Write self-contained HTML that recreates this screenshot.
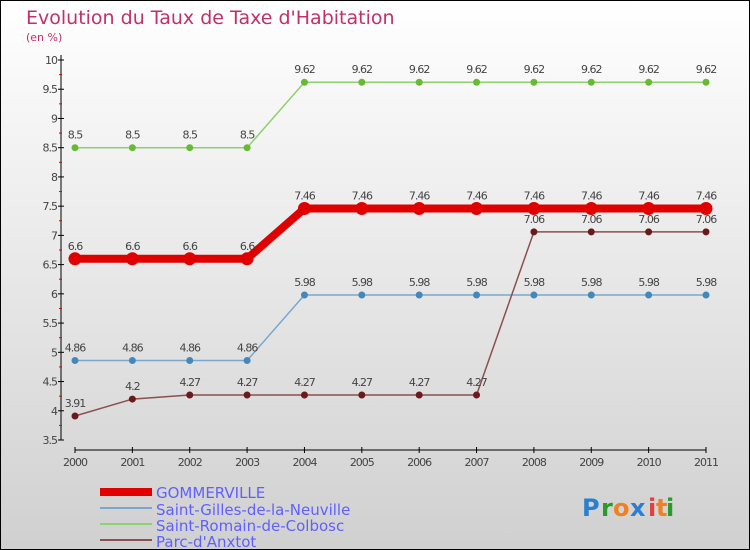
<!DOCTYPE html>
<html><head><meta charset="utf-8"><style>
body{margin:0}
#c{width:750px;height:550px;position:relative;overflow:hidden;box-sizing:border-box;border:1px solid #000;background:linear-gradient(#ffffff,#d0d0d0);font-family:"DejaVu Sans","Liberation Sans",sans-serif}
</style></head><body>
<div id="c">
<svg id="s" width="750" height="550" style="position:absolute;left:-1px;top:-1px">
<text x="26" y="24" font-size="19" fill="#c0306a">Evolution du Taux de Taxe d'Habitation</text>
<text x="26" y="41" font-size="11" fill="#c0306a">(en %)</text>
<g id="g"></g>
<g>
<rect x="100" y="488" width="52" height="8" fill="#e00000"/>
<text x="156" y="498" font-size="15" fill="#6060ff">GOMMERVILLE</text>
<rect x="100" y="507" width="52" height="2" fill="#7aa8cc"/>
<text x="156" y="515" font-size="15" fill="#6060ff">Saint-Gilles-de-la-Neuville</text>
<rect x="100" y="523" width="52" height="2" fill="#90d070"/>
<text x="156" y="531" font-size="15" fill="#6060ff">Saint-Romain-de-Colbosc</text>
<rect x="100" y="539" width="52" height="2" fill="#8a5050"/>
<text x="156" y="547" font-size="15" fill="#6060ff">Parc-d'Anxtot</text>
</g>
<g font-size="24" font-weight="bold">
<text x="582" y="516" fill="#2a7fd0">P</text><text x="601" y="516" fill="#2a9a2a">r</text><text x="613" y="516" fill="#f08020">o</text><text x="630" y="516" fill="#2a7fd0">x</text><text x="648" y="516" fill="#e04040">i</text><text x="656" y="516" fill="#f08020">t</text><text x="666" y="516" fill="#2a9a2a">i</text>
</g>
</svg>
</div>
<script>
const years=[2000,2001,2002,2003,2004,2005,2006,2007,2008,2009,2010,2011];
const gommerville=[6.6,6.6,6.6,6.6,7.46,7.46,7.46,7.46,7.46,7.46,7.46,7.46];
const saintGilles=[4.86,4.86,4.86,4.86,5.98,5.98,5.98,5.98,5.98,5.98,5.98,5.98];
const saintRomain=[8.5,8.5,8.5,8.5,9.62,9.62,9.62,9.62,9.62,9.62,9.62,9.62];
const parc=[3.91,4.2,4.27,4.27,4.27,4.27,4.27,4.27,7.06,7.06,7.06,7.06];
const yTicks=[3.5,4,4.5,5,5.5,6,6.5,7,7.5,8,8.5,9,9.5,10];
const NS="http://www.w3.org/2000/svg";
const g=document.getElementById('g');
const X=i=>75+i*(706-75)/(years.length-1);
const Y=v=>440-(v-3.5)*(380/6.5);
function mk(t,a,p){const e=document.createElementNS(NS,t);for(const k in a)e.setAttribute(k,a[k]);(p||g).appendChild(e);return e;}
// axes
let ax=mk('line',{x1:61,y1:55,x2:61,y2:440,stroke:'#000','stroke-width':1});


let bx=mk('line',{x1:75,y1:450,x2:706,y2:450,stroke:'#000','stroke-width':1});


yTicks.forEach(v=>{
 const y=Y(v);
 mk('line',{x1:58,y1:y,x2:64,y2:y,stroke:'#000'});
 mk('line',{x1:59,y1:Y(v+0.25),x2:62,y2:Y(v+0.25),stroke:v<10?'#e00000':'none'});
 const t=mk('text',{x:57,y:y+4,'font-size':11,'text-anchor':'end',fill:'#444','letter-spacing':'-1'});
 t.textContent=v;
 
 
});
years.forEach((yr,i)=>{
 mk('line',{x1:X(i),y1:447,x2:X(i),y2:453,stroke:'#000'});
 const t=mk('text',{x:X(i),y:466,'font-size':11,'text-anchor':'middle',fill:'#444','letter-spacing':'-1'});
 t.textContent=yr;
 
 
});
function series(vals,color,w,r,dot,name){
 const sg=mk('g',{});
 
 
 const l=mk('polyline',{points:vals.map((v,i)=>X(i)+','+Y(v)).join(' '),fill:'none',stroke:color,'stroke-width':w},sg);
 
 
 vals.forEach((v,i)=>{
  const c=mk('circle',{cx:X(i),cy:Y(v),r:r,fill:dot},sg);
  
  
  const t=mk('text',{x:X(i),y:Y(v)-9,'font-size':11,'text-anchor':'middle',fill:'#444','letter-spacing':'-1'},sg);
  t.textContent=v;
  
  
 });
}
series(saintRomain,'#90d070',1.5,3.5,'#66bb33','saint-romain');
series(saintGilles,'#7aa8cc',1.5,3.5,'#4488bb','saint-gilles');
series(parc,'#8a5050',1.5,3.5,'#6a1a1a','parc-danxtot');
series(gommerville,'#e00000',8,6.5,'#e00000','gommerville');
</script>
</body></html>
